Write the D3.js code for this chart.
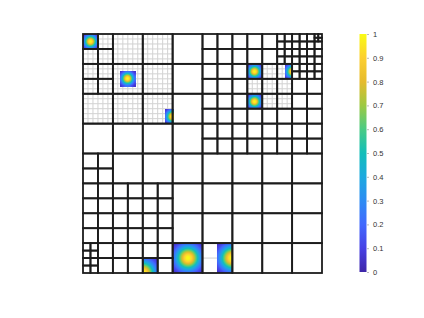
<!DOCTYPE html>
<html>
<head>
<meta charset="utf-8">
<script src="https://cdn.jsdelivr.net/npm/d3@7"></script>
<style>
body { margin: 0; background: #fff; }
svg { display: block; font-family: "Liberation Sans", Arial, sans-serif; }
</style>
</head>
<body>
<script>
const W = 424, H = 318

// root cells (8x8) split in four, [col, row] from top-left
const split8 = [[0,0],[0,1],[4,0],[5,0],[6,0],[7,0],[4,1],[5,1],[6,1],[7,1],
  [4,2],[5,2],[6,2],[7,2],[4,3],[5,3],[6,3],[7,3],
  [0,4],[0,5],[1,5],[2,5],[0,6],[1,6],[2,6],[0,7],[1,7],[2,7]]
// 16x16 cells split again
const split16 = [[13,0],[14,0],[15,0],[13,1],[14,1],[15,1],[14,2],[15,2],[0,14],[0,15]]
// 32x32 cells split again
const split32 = [[31,0]]

// fine (gray) meshes: x0, y0, x1, y1, step  in 1/48 units
const finePatches = [[0,0,18,18,1],[33,6,42,15,1],[24,42,27,48,3]]

// blobs: centre x, centre y, half width, visible x0, y0, x1, y1  in 1/16 units
const blobs = [
  [0.5, 0.5, 0.5, 0, 0, 1, 1],
  [3, 3, 0.5, 2.5, 2.5, 3.5, 3.5],
  [6, 5.5, 0.5, 5.5, 5, 6, 6],
  [11.5, 2.5, 0.5, 11, 2, 12, 3],
  [11.5, 4.5, 0.5, 11, 4, 12, 5],
  [14, 2.5, 0.5, 13.5, 2, 14, 3],
  [7, 15, 1, 6, 14, 8, 16],
  [10, 15, 1, 9, 14, 10, 16],
  [4, 16, 1, 4, 15, 5, 16]
]

// colorbar
const cbTicks = [0, 0.1, 0.2, 0.3, 0.4, 0.5, 0.6, 0.7, 0.8, 0.9, 1]
const parula = ["#3e26a8","#4741e5","#4269fe","#2d8cf3","#1ca9df","#12beb9",
  "#4acb84","#9dc943","#e6bb2d","#fccf30","#f9fb15"]

const color = d3.scaleLinear().domain(cbTicks).range(parula).clamp(true)

const x = d3.scaleLinear().domain([0, 1]).range([83, 322])
const y = d3.scaleLinear().domain([0, 1]).range([34, 273])

const svg = d3.select("body")
    .append("svg")
    .attr("width", W)
    .attr("height", H)

svg.append("rect").attr("width", W).attr("height", H).attr("fill", "#fff")

// build leaves of the quadtree
const leaves = []
function addCell(i, j, n) {
    const list = n == 8 ? split8 : n == 16 ? split16 : n == 32 ? split32 : []
    if (list.some(p => p[0] == i && p[1] == j)) {
        for (let dj = 0; dj < 2; dj++)
            for (let di = 0; di < 2; di++)
                addCell(2 * i + di, 2 * j + dj, 2 * n)
    } else {
        leaves.push({ x0: i / n, y0: j / n, x1: (i + 1) / n, y1: (j + 1) / n })
    }
}
for (let j = 0; j < 8; j++)
    for (let i = 0; i < 8; i++) addCell(i, j, 8)

// gray fine mesh
const fine = []
finePatches.forEach(p => {
    for (let k = p[0]; k <= p[2]; k += p[4]) fine.push([k / 48, p[1] / 48, k / 48, p[3] / 48])
    for (let k = p[1]; k <= p[3]; k += p[4]) fine.push([p[0] / 48, k / 48, p[2] / 48, k / 48])
})
svg.append("g")
    .selectAll("line")
    .data(fine)
    .enter().append("line")
    .attr("x1", d => x(d[0])).attr("y1", d => y(d[1]))
    .attr("x2", d => x(d[2])).attr("y2", d => y(d[3]))
    .attr("stroke", "#d2d2d2")
    .attr("stroke-width", 1)

// blobs as small image cells
const px = []
const res = 15
blobs.forEach(b => {
    const [cx, cy, r, bx0, by0, bx1, by1] = b
    const nx = Math.round((bx1 - bx0) * res), ny = Math.round((by1 - by0) * res)
    const sig = 0.55 * r
    for (let a = 0; a < nx; a++)
        for (let c = 0; c < ny; c++) {
            const u = bx0 + (a + 0.5) / res, v = by0 + (c + 0.5) / res
            const val = Math.exp(-((u - cx) ** 2 + (v - cy) ** 2) / (2 * sig * sig))
            px.push({ x0: (bx0 + a / res) / 16, y0: (by0 + c / res) / 16, s: 1 / res / 16, val })
        }
})
svg.append("g")
    .attr("shape-rendering", "crispEdges")
    .selectAll("rect")
    .data(px)
    .enter().append("rect")
    .attr("x", d => x(d.x0))
    .attr("y", d => y(d.y0))
    .attr("width", d => x(d.x0 + d.s) - x(d.x0) + 0.4)
    .attr("height", d => y(d.y0 + d.s) - y(d.y0) + 0.4)
    .attr("fill", d => color(d.val))

// quadtree cell outlines
svg.append("g")
    .selectAll("rect")
    .data(leaves)
    .enter().append("rect")
    .attr("x", d => x(d.x0))
    .attr("y", d => y(d.y0))
    .attr("width", d => x(d.x1) - x(d.x0))
    .attr("height", d => y(d.y1) - y(d.y0))
    .attr("fill", "none")
    .attr("stroke", "#1c1c1c")
    .attr("stroke-width", 1.8)

// colorbar
const cb = d3.scaleLinear().domain([0, 1]).range([272, 34])
const defs = svg.append("defs")
const grad = defs.append("linearGradient")
    .attr("id", "cbgrad")
    .attr("x1", 0).attr("y1", 1).attr("x2", 0).attr("y2", 0)
grad.selectAll("stop")
    .data(cbTicks)
    .enter().append("stop")
    .attr("offset", d => d)
    .attr("stop-color", d => color(d))

svg.append("rect")
    .attr("x", 359.5)
    .attr("y", cb(1))
    .attr("width", 7)
    .attr("height", cb(0) - cb(1))
    .attr("fill", "url(#cbgrad)")

const axis = svg.append("g")
    .attr("transform", "translate(367,0)")
    .call(d3.axisRight(cb).tickValues(cbTicks).tickSize(2).tickPadding(4).tickFormat(d => d))
axis.select(".domain").remove()
axis.selectAll("line").attr("stroke", "#bbb")
axis.selectAll("text")
    .attr("fill", "#333")
    .style("font-size", "7.5px")
    .style("font-family", "Liberation Sans, Arial, sans-serif")
</script>
</body>
</html>
